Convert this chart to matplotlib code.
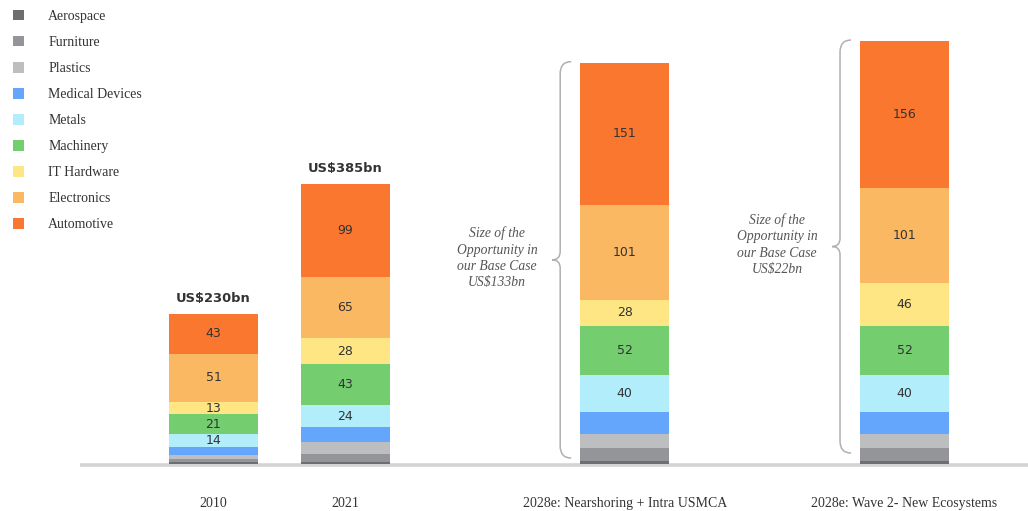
import matplotlib
matplotlib.use("Agg")
import matplotlib.pyplot as plt
from matplotlib.path import Path
from matplotlib.patches import PathPatch
import numpy as np

# ---------------- data ----------------
groups = ["2010", "2021", "2028e: Nearshoring + Intra USMCA", "2028e: Wave 2- New Ecosystems"]
sectors = ["Aerospace", "Furniture", "Plastics", "Medical Devices", "Metals",
           "Machinery", "IT Hardware", "Electronics", "Automotive"]
aerospace   = [2, 2, 3, 3]
furniture   = [3, 9, 14, 14]
plastics    = [5, 12, 15, 15]
medical     = [8, 16, 23, 23]
metals      = [14, 24, 40, 40]
machinery   = [21, 43, 52, 52]
it_hardware = [13, 28, 28, 46]
electronics = [51, 65, 101, 101]
automotive  = [43, 99, 151, 156]
labelled = [False, False, False, False, True, True, True, True, True]
totals_text = ["US$230bn", "US$385bn", None, None]
brace_text = [None, None,
              "Size of the\nOpportunity in\nour Base Case\nUS$133bn",
              "Size of the\nOpportunity in\nour Base Case\nUS$22bn"]

series = [aerospace, furniture, plastics, medical, metals, machinery,
          it_hardware, electronics, automotive]
colors = ["#6d6e71", "#939598", "#bcbec0", "#63a6fb", "#b1edfb",
          "#74cd6f", "#fde683", "#fbb862", "#f9772f"]

# ---------------- layout ----------------
W, H = 1028, 511
fig = plt.figure(figsize=(W / 100, H / 100), dpi=100)
ax = fig.add_axes([0, 0, 1, 1])
ax.axis("off")

xpos = np.array([0.0, 1.0, 3.115, 5.235])   # category positions
px_x = 1 / 132.0          # data units per pixel (x)
sy = 0.94                 # pixels per data unit (y)
base_px = 464
center0 = 213.5
ax.set_xlim(-center0 * px_x, (W - center0) * px_x)
ax.set_ylim(-(H - base_px) / sy, base_px / sy)
bw = 89 * px_x

# baseline
ax.plot([(80 - center0) * px_x, (W - center0) * px_x], [-1.2, -1.2],
        color="#d4d4d4", lw=2.6, zorder=1, solid_capstyle="butt")

bottom = np.zeros(len(groups))
handles = []
for name, vals, col, lab in zip(sectors, series, colors, labelled):
    vals = np.array(vals, dtype=float)
    b = ax.bar(xpos, vals, bw, bottom=bottom, color=col, label=name,
               zorder=3, linewidth=0)
    handles.append(b)
    if lab:
        for x, v, b0 in zip(xpos, vals, bottom):
            ax.text(x, b0 + v / 2, f"{int(v)}", ha="center", va="center",
                    fontsize=9, color="#333333", family="DejaVu Sans",
                    zorder=4)
    bottom += vals

# totals
for x, top, t in zip(xpos, bottom, totals_text):
    if t:
        ax.text(x, top + 16, t, ha="center", va="center", fontsize=9.4,
                color="#333333", family="DejaVu Sans", fontweight="bold")

# category labels
for x, g in zip(xpos, groups):
    ax.text(x, -(503 - base_px) / sy, g, ha="center", va="center",
            fontsize=10, color="#333333", family="Liberation Serif")

# braces + annotations
def brace(xs, y0, y1, color="#b0b0b0"):
    dx_tip = 11 * px_x
    dx_pt = 8 * px_x
    r = 12 / sy
    ym = (y0 + y1) / 2
    verts = [(xs + dx_tip, y1), (xs, y1), (xs, y1 - r),
             (xs, ym + r * 0.7), (xs, ym), (xs - dx_pt, ym),
             (xs, ym), (xs, ym - r * 0.7),
             (xs, y0 + r), (xs, y0), (xs + dx_tip, y0)]
    codes = [Path.MOVETO, Path.CURVE3, Path.CURVE3,
             Path.LINETO, Path.CURVE3, Path.CURVE3,
             Path.CURVE3, Path.CURVE3,
             Path.LINETO, Path.CURVE3, Path.CURVE3]
    ax.add_patch(PathPatch(Path(verts, codes), fill=False, edgecolor=color,
                           lw=1.1, zorder=2))
    return ym

brace_bottom_px = [None, None, 6, 11]
for x, top, t, bb in zip(xpos, bottom, brace_text, brace_bottom_px):
    if t:
        xs = x - bw / 2 - 20 * px_x
        ym = brace(xs, bb / sy, top + 1)
        ax.text(xs - 63 * px_x, ym + 2 / sy, t, ha="center", va="center",
                fontsize=9.8, style="italic", color="#555555",
                family="Liberation Serif", linespacing=1.32)

# legend
fig.legend(handles=handles, labels=sectors, loc="upper left",
           bbox_to_anchor=(10 / W, 1 - 7 / H), frameon=False,
           prop={"family": "Liberation Serif", "size": 10},
           labelcolor="#333333",
           handlelength=0.8, handleheight=0.8, handletextpad=1.75,
           labelspacing=0.93, borderaxespad=0, borderpad=0.2)

fig.savefig("out.png", dpi=100)
